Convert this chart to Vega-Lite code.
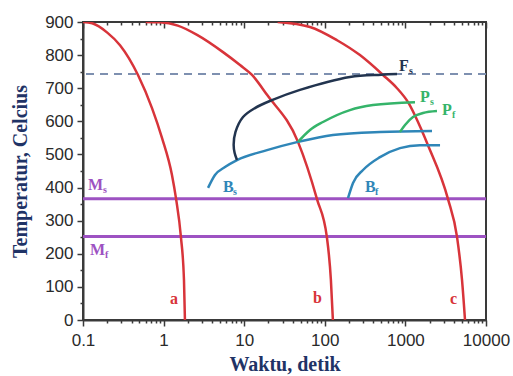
{
  "$schema": "https://vega.github.io/schema/vega-lite/v6.json",
  "width": 403,
  "height": 298,
  "autosize": "none",
  "padding": {"left": 83, "top": 22, "right": 27, "bottom": 56},
  "background": "white",
  "config": {
    "view": {"stroke": "#3a3a3a", "strokeWidth": 2},
    "axis": {
      "grid": false,
      "domainColor": "#3a3a3a",
      "domainWidth": 2,
      "tickColor": "#3a3a3a",
      "tickWidth": 1.5,
      "labelFont": "Liberation Sans",
      "labelFontSize": 17,
      "labelColor": "#2a2a2a",
      "labelOverlap": false,
      "labelBound": false,
      "titleFont": "Liberation Serif",
      "titleFontWeight": "bold",
      "titleFontSize": 20,
      "titleColor": "#1f3366"
    }
  },
  "datasets": {
    "curves": [
      {"curve": "a", "kind": "cool", "i": 0, "t": 0.1, "T": 900},
      {"curve": "a", "kind": "cool", "i": 1, "t": 0.13, "T": 896},
      {"curve": "a", "kind": "cool", "i": 2, "t": 0.2, "T": 868},
      {"curve": "a", "kind": "cool", "i": 3, "t": 0.288, "T": 830},
      {"curve": "a", "kind": "cool", "i": 4, "t": 0.481, "T": 740},
      {"curve": "a", "kind": "cool", "i": 5, "t": 0.718, "T": 640},
      {"curve": "a", "kind": "cool", "i": 6, "t": 0.955, "T": 550},
      {"curve": "a", "kind": "cool", "i": 7, "t": 1.27, "T": 438},
      {"curve": "a", "kind": "cool", "i": 8, "t": 1.43, "T": 365},
      {"curve": "a", "kind": "cool", "i": 9, "t": 1.64, "T": 251},
      {"curve": "a", "kind": "cool", "i": 10, "t": 1.79, "T": 121},
      {"curve": "a", "kind": "cool", "i": 11, "t": 1.84, "T": 0},
      {"curve": "b", "kind": "cool", "i": 0, "t": 0.6, "T": 900},
      {"curve": "b", "kind": "cool", "i": 1, "t": 0.9, "T": 899},
      {"curve": "b", "kind": "cool", "i": 2, "t": 1.5, "T": 889},
      {"curve": "b", "kind": "cool", "i": 3, "t": 2.6, "T": 861},
      {"curve": "b", "kind": "cool", "i": 4, "t": 5.46, "T": 809},
      {"curve": "b", "kind": "cool", "i": 5, "t": 8.87, "T": 770},
      {"curve": "b", "kind": "cool", "i": 6, "t": 12.5, "T": 740},
      {"curve": "b", "kind": "cool", "i": 7, "t": 19.2, "T": 680},
      {"curve": "b", "kind": "cool", "i": 8, "t": 46.5, "T": 538},
      {"curve": "b", "kind": "cool", "i": 9, "t": 80, "T": 365},
      {"curve": "b", "kind": "cool", "i": 10, "t": 106, "T": 251},
      {"curve": "b", "kind": "cool", "i": 11, "t": 119, "T": 121},
      {"curve": "b", "kind": "cool", "i": 12, "t": 126, "T": 0},
      {"curve": "c", "kind": "cool", "i": 0, "t": 26, "T": 900},
      {"curve": "c", "kind": "cool", "i": 1, "t": 65.5, "T": 885},
      {"curve": "c", "kind": "cool", "i": 2, "t": 142, "T": 845},
      {"curve": "c", "kind": "cool", "i": 3, "t": 273, "T": 800},
      {"curve": "c", "kind": "cool", "i": 4, "t": 527, "T": 740},
      {"curve": "c", "kind": "cool", "i": 5, "t": 787, "T": 700},
      {"curve": "c", "kind": "cool", "i": 6, "t": 1077, "T": 658},
      {"curve": "c", "kind": "cool", "i": 7, "t": 1606, "T": 571},
      {"curve": "c", "kind": "cool", "i": 8, "t": 1906, "T": 528},
      {"curve": "c", "kind": "cool", "i": 9, "t": 3380, "T": 365},
      {"curve": "c", "kind": "cool", "i": 10, "t": 4370, "T": 251},
      {"curve": "c", "kind": "cool", "i": 11, "t": 5040, "T": 121},
      {"curve": "c", "kind": "cool", "i": 12, "t": 5490, "T": 0},
      {"curve": "Bs", "kind": "bainite", "i": 0, "t": 3.56, "T": 399},
      {"curve": "Bs", "kind": "bainite", "i": 1, "t": 4.34, "T": 438},
      {"curve": "Bs", "kind": "bainite", "i": 2, "t": 5.78, "T": 462},
      {"curve": "Bs", "kind": "bainite", "i": 3, "t": 8.14, "T": 483},
      {"curve": "Bs", "kind": "bainite", "i": 4, "t": 19.2, "T": 513},
      {"curve": "Bs", "kind": "bainite", "i": 5, "t": 46.5, "T": 538},
      {"curve": "Bs", "kind": "bainite", "i": 6, "t": 126, "T": 559},
      {"curve": "Bs", "kind": "bainite", "i": 7, "t": 484, "T": 568},
      {"curve": "Bs", "kind": "bainite", "i": 8, "t": 2140, "T": 571},
      {"curve": "Bf", "kind": "bainite", "i": 0, "t": 194, "T": 368},
      {"curve": "Bf", "kind": "bainite", "i": 1, "t": 224, "T": 414},
      {"curve": "Bf", "kind": "bainite", "i": 2, "t": 298, "T": 453},
      {"curve": "Bf", "kind": "bainite", "i": 3, "t": 484, "T": 492},
      {"curve": "Bf", "kind": "bainite", "i": 4, "t": 857, "T": 519},
      {"curve": "Bf", "kind": "bainite", "i": 5, "t": 1517, "T": 528},
      {"curve": "Bf", "kind": "bainite", "i": 6, "t": 2690, "T": 528},
      {"curve": "Ps", "kind": "pearlite", "i": 0, "t": 46.5, "T": 538},
      {"curve": "Ps", "kind": "pearlite", "i": 1, "t": 65.5, "T": 574},
      {"curve": "Ps", "kind": "pearlite", "i": 2, "t": 95, "T": 598},
      {"curve": "Ps", "kind": "pearlite", "i": 3, "t": 205, "T": 634},
      {"curve": "Ps", "kind": "pearlite", "i": 4, "t": 396, "T": 649},
      {"curve": "Ps", "kind": "pearlite", "i": 5, "t": 1315, "T": 658},
      {"curve": "Pf", "kind": "pearlite", "i": 0, "t": 857, "T": 568},
      {"curve": "Pf", "kind": "pearlite", "i": 1, "t": 989, "T": 589},
      {"curve": "Pf", "kind": "pearlite", "i": 2, "t": 1242, "T": 613},
      {"curve": "Pf", "kind": "pearlite", "i": 3, "t": 1652, "T": 625},
      {"curve": "Pf", "kind": "pearlite", "i": 4, "t": 2465, "T": 631}
    ],
    "navy": [
      {"curve": "Fs", "kind": "ferrite", "i": 0, "t": 8.14, "T": 483},
      {"curve": "Fs", "kind": "ferrite", "i": 1, "t": 7.6, "T": 505},
      {"curve": "Fs", "kind": "ferrite", "i": 2, "t": 7.4, "T": 530},
      {"curve": "Fs", "kind": "ferrite", "i": 3, "t": 7.8, "T": 568},
      {"curve": "Fs", "kind": "ferrite", "i": 4, "t": 9.67, "T": 613},
      {"curve": "Fs", "kind": "ferrite", "i": 5, "t": 13.6, "T": 640},
      {"curve": "Fs", "kind": "ferrite", "i": 6, "t": 22.1, "T": 664},
      {"curve": "Fs", "kind": "ferrite", "i": 7, "t": 49.2, "T": 695},
      {"curve": "Fs", "kind": "ferrite", "i": 8, "t": 205, "T": 734},
      {"curve": "Fs", "kind": "ferrite", "i": 9, "t": 500, "T": 741},
      {"curve": "Fs", "kind": "ferrite", "i": 10, "t": 787, "T": 743}
    ],
    "labels": [
      {"txt": "M", "sub": "s", "kind": "martensite", "t": 0.115, "T": 408},
      {"txt": "M", "sub": "f", "kind": "martensite", "t": 0.122, "T": 211},
      {"txt": "B", "sub": "s", "kind": "bainite", "t": 5.46, "T": 402},
      {"txt": "B", "sub": "f", "kind": "bainite", "t": 315, "T": 402},
      {"txt": "P", "sub": "s", "kind": "pearlite", "t": 1517, "T": 673},
      {"txt": "P", "sub": "f", "kind": "pearlite", "t": 2845, "T": 634},
      {"txt": "F", "sub": "s", "kind": "ferrite", "t": 830, "T": 767},
      {"txt": "a", "sub": "", "kind": "cool", "t": 1.2, "T": 62},
      {"txt": "b", "sub": "", "kind": "cool", "t": 71.4, "T": 66},
      {"txt": "c", "sub": "", "kind": "cool", "t": 3570, "T": 62}
    ]
  },
  "layer": [
    {
      "data": {"values": [{"T": 743}]},
      "mark": {"type": "rule", "color": "#7e90b0", "strokeWidth": 2, "strokeDash": [8, 6]},
      "encoding": {
        "y": {
          "field": "T", "type": "quantitative", "title": "Temperatur, Celcius",
          "scale": {"domain": [0, 900], "nice": false, "zero": false},
          "axis": {
            "values": [0, 50, 100, 150, 200, 250, 300, 350, 400, 450, 500, 550, 600, 650, 700, 750, 800, 850, 900],
            "labelExpr": "datum.value % 100 == 0 ? datum.label : ''",
            "labelOverlap": false,
            "labelPadding": 4,
            "titlePadding": 14,
            "tickSize": {"condition": {"test": "datum.value % 100 == 0", "value": 6}, "value": 3}
          }
        }
      }
    },
    {
      "data": {"values": [{"T": 366}, {"T": 252}]},
      "mark": {"type": "rule", "color": "#9d52c2", "strokeWidth": 3},
      "encoding": {"y": {"field": "T", "type": "quantitative", "axis": null}}
    },
    {
      "data": {"name": "curves"},
      "mark": {"type": "line", "strokeWidth": 2.5, "interpolate": "monotone", "clip": true},
      "encoding": {
        "x": {
          "field": "t", "type": "quantitative", "title": "Waktu, detik",
          "scale": {"type": "log", "domain": [0.1, 10000], "nice": false},
          "axis": {
            "orient": "bottom",
            "values": [0.1, 0.2, 0.3, 0.4, 0.5, 0.6, 0.7, 0.8, 0.9, 1, 2, 3, 4, 5, 6, 7, 8, 9, 10, 20, 30, 40, 50, 60, 70, 80, 90, 100, 200, 300, 400, 500, 600, 700, 800, 900, 1000, 2000, 3000, 4000, 5000, 6000, 7000, 8000, 9000, 10000],
            "labelExpr": "indexof([0.1, 1, 10, 100, 1000, 10000], datum.value) >= 0 ? format(datum.value, '~g') : ''",
            "labelOverlap": false,
            "labelFlush": false,
            "labelPadding": 6,
            "titlePadding": 6,
            "tickSize": {"condition": {"test": "indexof([0.1, 1, 10, 100, 1000, 10000], datum.value) >= 0", "value": 6}, "value": 3}
          }
        },
        "y": {"field": "T", "type": "quantitative", "axis": null},
        "color": {
          "field": "kind", "type": "nominal", "legend": null,
          "scale": {
            "domain": ["cool", "ferrite", "bainite", "pearlite", "martensite"],
            "range": ["#d8343a", "#22344f", "#2f86b8", "#35b46a", "#9d52c2"]
          }
        },
        "detail": {"field": "curve", "type": "nominal"},
        "order": {"field": "i", "type": "quantitative"}
      }
    },
    {
      "data": {"name": "navy"},
      "mark": {"type": "line", "strokeWidth": 2.5, "interpolate": "catmull-rom", "clip": true},
      "encoding": {
        "x": {"field": "t", "type": "quantitative", "axis": null},
        "y": {"field": "T", "type": "quantitative", "axis": null},
        "color": {"field": "kind", "type": "nominal", "legend": null},
        "detail": {"field": "curve", "type": "nominal"},
        "order": {"field": "i", "type": "quantitative"}
      }
    },
    {
      "data": {"name": "labels"},
      "mark": {"type": "text", "align": "left", "baseline": "middle", "font": "Liberation Serif", "fontWeight": "bold", "fontSize": 16},
      "encoding": {
        "x": {
          "field": "t", "type": "quantitative",
          "axis": {
            "orient": "top",
            "title": null,
            "labels": false,
            "domain": false,
            "values": [0.1, 0.2, 0.3, 0.4, 0.5, 0.6, 0.7, 0.8, 0.9, 1, 2, 3, 4, 5, 6, 7, 8, 9, 10, 20, 30, 40, 50, 60, 70, 80, 90, 100, 200, 300, 400, 500, 600, 700, 800, 900, 1000, 2000, 3000, 4000, 5000, 6000, 7000, 8000, 9000, 10000],
            "tickSize": {"condition": {"test": "indexof([0.1, 1, 10, 100, 1000, 10000], datum.value) >= 0", "value": -6}, "value": -3}
          }
        },
        "y": {"field": "T", "type": "quantitative", "axis": null},
        "text": {"field": "txt"},
        "color": {"field": "kind", "type": "nominal", "legend": null}
      }
    },
    {
      "data": {"name": "labels"},
      "transform": [{"filter": "datum.txt == 'M'"}],
      "mark": {"type": "text", "align": "left", "baseline": "middle", "font": "Liberation Serif", "fontWeight": "bold", "fontSize": 10, "dx": 15, "dy": 5},
      "encoding": {
        "x": {"field": "t", "type": "quantitative", "axis": null},
        "y": {"field": "T", "type": "quantitative", "axis": null},
        "text": {"field": "sub"},
        "color": {"field": "kind", "type": "nominal", "legend": null}
      }
    },
    {
      "data": {"name": "labels"},
      "transform": [{"filter": "datum.txt != 'M' && datum.sub != ''"}],
      "mark": {"type": "text", "align": "left", "baseline": "middle", "font": "Liberation Serif", "fontWeight": "bold", "fontSize": 10, "dx": 10, "dy": 5},
      "encoding": {
        "x": {"field": "t", "type": "quantitative", "axis": null},
        "y": {"field": "T", "type": "quantitative", "axis": null},
        "text": {"field": "sub"},
        "color": {"field": "kind", "type": "nominal", "legend": null}
      }
    }
  ],
  "resolve": {"axis": {"x": "independent", "y": "independent"}}
}
